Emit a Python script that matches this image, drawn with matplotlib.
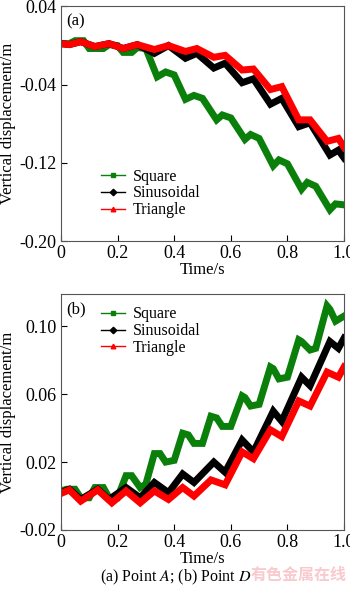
import matplotlib
matplotlib.use("Agg")
import matplotlib.pyplot as plt
from matplotlib.lines import Line2D

plt.rcParams['font.family'] = ['Liberation Serif', 'DejaVu Serif']
plt.rcParams['mathtext.fontset'] = 'stix'

# (a) Point A
a_sq_t = [0, 0.03, 0.05, 0.08, 0.10, 0.15, 0.17, 0.20, 0.22, 0.25, 0.27, 0.30, 0.34, 0.37,
          0.40, 0.44, 0.47, 0.50, 0.55, 0.57, 0.60, 0.65, 0.67, 0.70, 0.75, 0.77, 0.80, 0.85,
          0.87, 0.90, 0.95, 0.97, 1.0]
a_sq_v = [0.002, 0.002, 0.005, 0.005, -0.003, -0.003, 0.001, 0.0, -0.007, -0.007, -0.002, -0.003,
          -0.032, -0.027, -0.030, -0.055, -0.051, -0.054, -0.076, -0.071, -0.074, -0.096, -0.091,
          -0.095, -0.123, -0.117, -0.121, -0.147, -0.140, -0.144, -0.168, -0.162, -0.163]

a_sin_t = [0, 0.03, 0.07, 0.12, 0.17, 0.22, 0.27, 0.33, 0.38, 0.44, 0.48, 0.54, 0.58, 0.64,
           0.68, 0.74, 0.78, 0.84, 0.88, 0.95, 0.98, 1.0]
a_sin_v = [0.002, 0.001, 0.004, -0.001, 0.002, -0.003, 0.001, -0.008, 0.0, -0.013, -0.008,
           -0.023, -0.018, -0.038, -0.034, -0.060, -0.054, -0.083, -0.079, -0.112, -0.107, -0.115]

a_tri_t = [0, 0.03, 0.07, 0.12, 0.17, 0.22, 0.27, 0.33, 0.38, 0.44, 0.48, 0.54, 0.58, 0.64,
           0.68, 0.74, 0.78, 0.84, 0.88, 0.94, 0.98, 1.0]
a_tri_v = [0.002, 0.001, 0.004, -0.001, 0.002, -0.003, 0.001, -0.004, 0.0, -0.006, -0.003,
           -0.012, -0.010, -0.025, -0.024, -0.045, -0.042, -0.076, -0.076, -0.098, -0.095, -0.104]

# (b) Point D
b_sq_t = [0, 0.02, 0.05, 0.07, 0.10, 0.12, 0.15, 0.17, 0.20, 0.23, 0.25, 0.28, 0.30, 0.33,
          0.35, 0.37, 0.40, 0.43, 0.45, 0.47, 0.50, 0.53, 0.55, 0.57, 0.60, 0.64, 0.65, 0.67,
          0.70, 0.74, 0.75, 0.77, 0.80, 0.84, 0.85, 0.88, 0.90, 0.94, 0.95, 0.97, 1.0]
b_sq_v = [0.003, 0.004, 0.004, -0.001, -0.001, 0.005, 0.005, -0.001, -0.001, 0.012, 0.012, 0.005,
          0.007, 0.025, 0.025, 0.020, 0.021, 0.037, 0.036, 0.031, 0.031, 0.047, 0.046, 0.041,
          0.041, 0.059, 0.058, 0.053, 0.054, 0.076, 0.075, 0.069, 0.070, 0.092, 0.091, 0.086,
          0.087, 0.112, 0.110, 0.103, 0.106]

b_sin_t = [0, 0.03, 0.07, 0.13, 0.17, 0.23, 0.28, 0.33, 0.38, 0.43, 0.47, 0.54, 0.58, 0.64,
           0.68, 0.75, 0.78, 0.85, 0.88, 0.95, 0.98, 1.0]
b_sin_v = [0.002, 0.004, -0.002, 0.004, -0.002, 0.005, -0.001, 0.008, 0.002, 0.013, 0.008,
           0.020, 0.014, 0.033, 0.026, 0.050, 0.044, 0.070, 0.065, 0.091, 0.087, 0.093]

b_tri_t = [0, 0.03, 0.07, 0.13, 0.18, 0.23, 0.28, 0.33, 0.38, 0.43, 0.47, 0.53, 0.58, 0.64,
           0.68, 0.74, 0.78, 0.84, 0.88, 0.94, 0.98, 1.0]
b_tri_v = [0.0015, 0.0036, -0.003, 0.0036, -0.004, 0.003, -0.004, 0.003, -0.002, 0.005, 0.0,
           0.0095, 0.0066, 0.026, 0.022, 0.039, 0.035, 0.056, 0.053, 0.073, 0.070, 0.076]

labels = ['Square', 'Sinusoidal', 'Triangle']
colors = ['#0a7f0a', 'black', '#ff0000']
markers = ['s', 'D', '^']

fig = plt.figure(figsize=(3.5, 5.9), dpi=100)
ax1 = fig.add_axes([0.174, 0.5915, 0.809, 0.3975])
ax2 = fig.add_axes([0.174, 0.1017, 0.809, 0.4000])


def draw(ax, series, ylim, yticks, ylabels, tag, leg_loc):
    for (t, v), c in zip(series, colors):
        ax.plot(t, v, color=c, lw=5, solid_joinstyle='miter')
    ax.set_xlim(0, 1.0)
    ax.set_ylim(*ylim)
    ax.set_xticks([0, 0.2, 0.4, 0.6, 0.8, 1.0])
    ax.set_xticklabels(['0', '0.2', '0.4', '0.6', '0.8', '1.0'])
    ax.set_yticks(yticks)
    ax.set_yticklabels(ylabels)
    ax.tick_params(direction='in', length=4, labelsize=13, width=0.8, pad=3)
    ax.set_xlabel('Time/s', fontsize=12, labelpad=0)
    ax.set_ylabel('Vertical displacement/m', fontsize=12)
    ax.yaxis.set_label_coords(-0.158, 0.5)
    for s in ax.spines.values():
        s.set_color('#555555')
    ax.text(0.02, 0.97, tag, transform=ax.transAxes, fontsize=12, va='top', ha='left')
    handles = [Line2D([], [], color=c, marker=m, lw=1, markersize=3.3) for c, m in zip(colors, markers)]
    ax.legend(handles, labels, loc=leg_loc, frameon=False, fontsize=11.5, handlelength=1.5,
              handletextpad=0.45, labelspacing=0.05, borderaxespad=0)


draw(ax1, [(a_sq_t, a_sq_v), (a_sin_t, a_sin_v), (a_tri_t, a_tri_v)],
     (-0.20, 0.04), [-0.20, -0.12, -0.04, 0.04], ['-0.20', '-0.12', '-0.04', '0.04'],
     '(a)', (0.12, 0.07))
draw(ax2, [(b_sq_t, b_sq_v), (b_sin_t, b_sin_v), (b_tri_t, b_tri_v)],
     (-0.02, 0.119), [-0.02, 0.02, 0.06, 0.10], ['-0.02', '0.02', '0.06', '0.10'],
     '(b)', (0.12, 0.71))

fig.text(0.503, 0.022, '(a) Point $\\mathit{A}$; (b) Point $\\mathit{D}$', ha='center', va='center',
         fontsize=11.5)
fig.text(0.99, 0.025, '有色金属在线', ha='right', va='center', fontsize=11.5, color='#f8c9cd',
         fontweight='bold', family=['Noto Sans CJK SC', 'DejaVu Sans'])

fig.savefig('out.png', dpi=100)
